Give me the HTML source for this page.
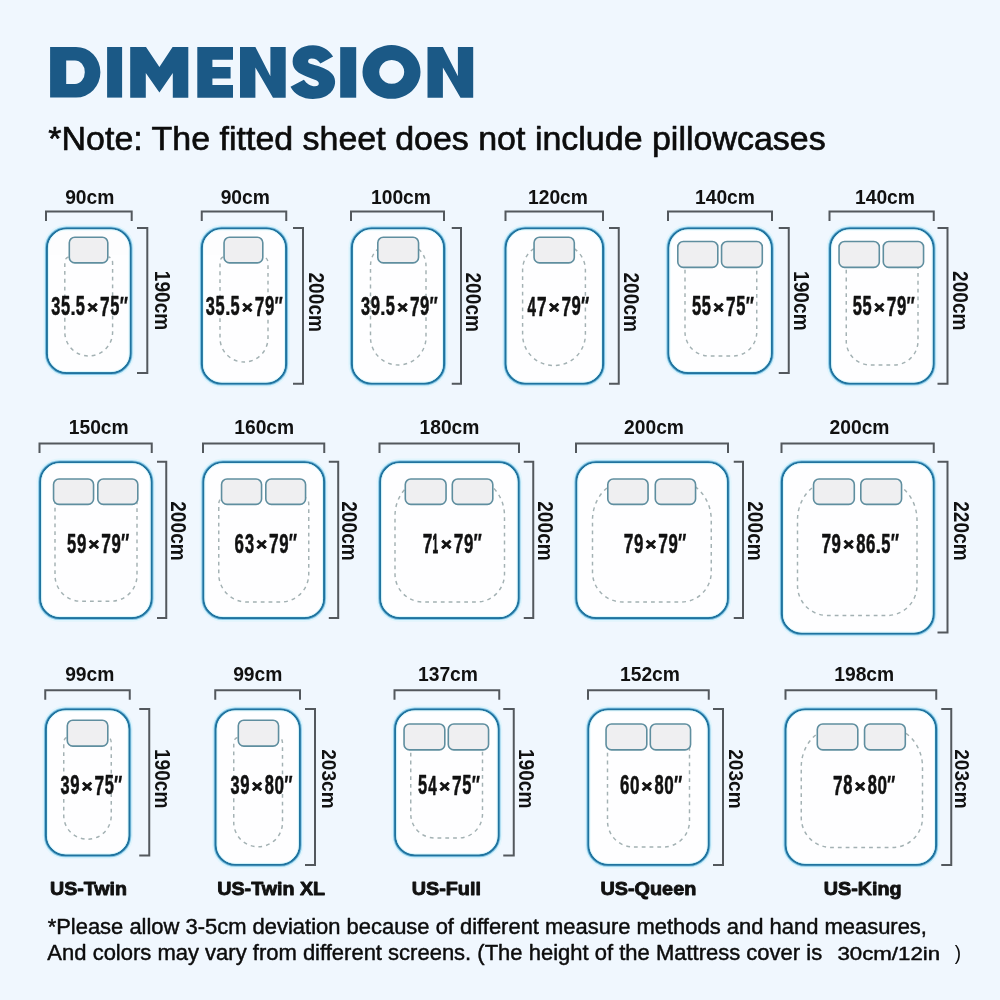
<!DOCTYPE html>
<html><head><meta charset="utf-8"><title>Dimension</title>
<style>html,body{margin:0;padding:0;background:#f0f7fe;}body{width:1000px;height:1000px;overflow:hidden;}svg{display:block;will-change:transform;opacity:.999;font-family:"Liberation Sans",sans-serif;}</style>
</head><body>
<svg width="1000" height="1000" viewBox="0 0 1000 1000">
<rect width="1000" height="1000" fill="#f0f7fe"/>
<g fill="#1b5986">
<path fill-rule="evenodd" d="M50.1,46.9 H76 A24.4,25.35 0 0 1 76,97.6 H50.1 Z M66.2,60.4 V84 H75 A9.8,11.8 0 0 0 75,60.4 Z"/>
<rect x="107.1" y="47" width="15" height="50.6"/>
<path d="M130.2,47.1 H146 L159.4,67 L172.6,47.1 H188.3 V97.7 H172.8 V73 L159.4,92.4 L145.8,73 V97.7 H130.2 Z"/>
<path d="M197.3,47.1 H233 V59.8 H212.4 V67 H230.6 V78.4 H212.4 V85 H233 V97.7 H197.3 Z"/>
<path transform="translate(240,0)" d="M0,47.1 H15.4 L30.4,76.3 V47.1 H45.7 V97.7 H33 L15.4,67.5 V97.7 H0 Z"/>
</g>
<path fill="#1b5986" d="M333.1,56.6 C328.5,49.5 321.5,45.3 313,45.3 C301,45.3 292.6,52 292.6,61.5 C292.6,70 299,73.5 306.5,76.4 C310,77.8 313,79 316.2,80.3 C318,81.2 318.8,82.3 318.8,83.6 C318.8,85.4 317.5,86.3 315,86.3 C310.5,86.3 306.5,83.5 303.9,79.7 L290.5,86.8 C294.5,94.5 302.5,99 313,99 C326,99 335.1,92 335.1,81.6 C335.1,73.5 328,70 321.4,67.3 C317,65.5 313,64.8 311,64.1 C309,63.4 308.1,62.6 308.1,61.5 C308.1,59.6 309.3,58.5 311.5,58.5 C315.5,58.5 318.3,60.5 320.4,63.4 Z"/>
<g fill="#1b5986">
<rect x="340.2" y="47.1" width="16" height="50.6"/>
<path fill-rule="evenodd" d="M391.5,45 A29,26.9 0 1 1 391.49,45 Z M391.7,60 A12.5,11.9 0 1 0 391.71,60 Z"/>
<path transform="translate(427.5,0)" d="M0,47.1 H15.4 L30.4,76.3 V47.1 H45.7 V97.7 H33 L15.4,67.5 V97.7 H0 Z"/>
</g>
<text transform="matrix(0.3398 0 0 0.3345 48.33 150.00)" font-size="100" font-weight="400" fill="#0c0c0c" stroke="#0c0c0c" stroke-width="1.94" stroke-linejoin="round">*Note: The fitted sheet does not include pillowcases</text>
<rect x="44.30" y="225.80" width="88.90" height="149.90" rx="22.20" fill="none" stroke="#d2f3fb" stroke-width="2.0" opacity="0.5"/>
<rect x="45.65" y="227.15" width="86.20" height="147.20" rx="20.85" fill="none" stroke="#8ccbea" stroke-width="1.5"/>
<rect x="46.95" y="228.45" width="83.60" height="144.60" rx="19.55" fill="#fefeff" stroke="#1f739f" stroke-width="2.1"/>
<rect x="48.40" y="229.90" width="80.70" height="141.70" rx="18.10" fill="none" stroke="#d6f7fd" stroke-width="1.0" opacity="0.9"/>
<path d="M68.5,257 Q64.8,258 64.8,263 V332.1 A23.9,23.9 0 0 0 88.69999999999999,356 H88.69999999999999 A23.9,23.9 0 0 0 112.6,332.1 V263 Q112.6,258 108.6,257" fill="none" stroke="#a3b1b3" stroke-width="1.45" stroke-dasharray="3.8 4"/>
<rect x="69.30" y="237.30" width="38.50" height="25.60" rx="5.5" fill="#efeff1" stroke="#5f8e9f" stroke-width="1.6"/>
<path d="M46,221.0 V211.5 H131.7 V221.0" fill="none" stroke="#53585d" stroke-width="2"/>
<path d="M137,227.9 H147.3 V373 H137" fill="none" stroke="#53585d" stroke-width="2"/>
<text transform="matrix(0.1927 0 0 0.2064 65.13 203.59)" font-size="100" font-weight="700" fill="#111">90cm</text>
<text transform="matrix(0 0.1913 -0.2120 0 154.51 270.80)" font-size="100" font-weight="700" fill="#111">190cm</text>
<text transform="matrix(0.1629 0 0 0.2662 51.14 315.17)" font-size="100" font-weight="700" fill="#111" stroke="#111" stroke-width="2.15" stroke-linejoin="round">3</text>
<text transform="matrix(0.1637 0 0 0.2710 60.92 315.23)" font-size="100" font-weight="700" fill="#111" stroke="#111" stroke-width="2.14" stroke-linejoin="round">5</text>
<text transform="matrix(0.2024 0 0 0.2188 70.20 315.40)" font-size="100" font-weight="700" fill="#111" stroke="#111" stroke-width="0.99" stroke-linejoin="round">.</text>
<text transform="matrix(0.1637 0 0 0.2710 75.84 315.23)" font-size="100" font-weight="700" fill="#111" stroke="#111" stroke-width="2.14" stroke-linejoin="round">5</text>
<text transform="matrix(0.1839 0 0 0.1711 87.35 312.63)" font-size="100" font-weight="700" fill="#111" stroke="#111" stroke-width="5.26" stroke-linejoin="round">×</text>
<text transform="matrix(0.1725 0 0 0.2749 100.11 315.50)" font-size="100" font-weight="700" fill="#111" stroke="#111" stroke-width="2.03" stroke-linejoin="round">7</text>
<text transform="matrix(0.1637 0 0 0.2710 110.26 315.23)" font-size="100" font-weight="700" fill="#111" stroke="#111" stroke-width="2.14" stroke-linejoin="round">5</text>
<text transform="matrix(0.1727 0 0 0.2600 119.70 314.57)" font-size="100" font-weight="700" fill="#111" stroke="#111" stroke-width="1.45" stroke-linejoin="round">″</text>
<rect x="199.30" y="225.80" width="89.40" height="160.40" rx="22.20" fill="none" stroke="#d2f3fb" stroke-width="2.0" opacity="0.5"/>
<rect x="200.65" y="227.15" width="86.70" height="157.70" rx="20.85" fill="none" stroke="#8ccbea" stroke-width="1.5"/>
<rect x="201.95" y="228.45" width="84.10" height="155.10" rx="19.55" fill="#fefeff" stroke="#1f739f" stroke-width="2.1"/>
<rect x="203.40" y="229.90" width="81.20" height="152.20" rx="18.10" fill="none" stroke="#d6f7fd" stroke-width="1.0" opacity="0.9"/>
<path d="M223.25,257 Q220,258 220,263 V338 A24,24 0 0 0 244,362 H244 A24,24 0 0 0 268,338 V263 Q268,258 263.6,257" fill="none" stroke="#a3b1b3" stroke-width="1.45" stroke-dasharray="3.8 4"/>
<rect x="224.05" y="237.30" width="38.75" height="25.60" rx="5.5" fill="#efeff1" stroke="#5f8e9f" stroke-width="1.6"/>
<path d="M201.75,221.0 V211.5 H286.25 V221.0" fill="none" stroke="#53585d" stroke-width="2"/>
<path d="M293,227.9 H303 V383.75 H293" fill="none" stroke="#53585d" stroke-width="2"/>
<text transform="matrix(0.1927 0 0 0.2064 220.63 203.59)" font-size="100" font-weight="700" fill="#111">90cm</text>
<text transform="matrix(0 0.1913 -0.2120 0 308.51 272.47)" font-size="100" font-weight="700" fill="#111">200cm</text>
<text transform="matrix(0.1629 0 0 0.2662 205.84 315.17)" font-size="100" font-weight="700" fill="#111" stroke="#111" stroke-width="2.15" stroke-linejoin="round">3</text>
<text transform="matrix(0.1637 0 0 0.2710 215.62 315.23)" font-size="100" font-weight="700" fill="#111" stroke="#111" stroke-width="2.14" stroke-linejoin="round">5</text>
<text transform="matrix(0.2024 0 0 0.2188 224.90 315.40)" font-size="100" font-weight="700" fill="#111" stroke="#111" stroke-width="0.99" stroke-linejoin="round">.</text>
<text transform="matrix(0.1637 0 0 0.2710 230.54 315.23)" font-size="100" font-weight="700" fill="#111" stroke="#111" stroke-width="2.14" stroke-linejoin="round">5</text>
<text transform="matrix(0.1839 0 0 0.1711 242.05 312.63)" font-size="100" font-weight="700" fill="#111" stroke="#111" stroke-width="5.26" stroke-linejoin="round">×</text>
<text transform="matrix(0.1725 0 0 0.2749 254.81 315.50)" font-size="100" font-weight="700" fill="#111" stroke="#111" stroke-width="2.03" stroke-linejoin="round">7</text>
<text transform="matrix(0.1671 0 0 0.2671 264.90 315.23)" font-size="100" font-weight="700" fill="#111" stroke="#111" stroke-width="2.09" stroke-linejoin="round">9</text>
<text transform="matrix(0.1727 0 0 0.2600 274.40 314.57)" font-size="100" font-weight="700" fill="#111" stroke="#111" stroke-width="1.45" stroke-linejoin="round">″</text>
<rect x="349.30" y="225.80" width="97.40" height="160.40" rx="22.20" fill="none" stroke="#d2f3fb" stroke-width="2.0" opacity="0.5"/>
<rect x="350.65" y="227.15" width="94.70" height="157.70" rx="20.85" fill="none" stroke="#8ccbea" stroke-width="1.5"/>
<rect x="351.95" y="228.45" width="92.10" height="155.10" rx="19.55" fill="#fefeff" stroke="#1f739f" stroke-width="2.1"/>
<rect x="353.40" y="229.90" width="89.20" height="152.20" rx="18.10" fill="none" stroke="#d6f7fd" stroke-width="1.0" opacity="0.9"/>
<path d="M386.5,246 A16,20 0 0 0 370.5,266 V337.3 A27.7,27.7 0 0 0 398.2,365 H398.3 A27.7,27.7 0 0 0 426,337.3 V266 A16,20 0 0 0 410,246" fill="none" stroke="#a3b1b3" stroke-width="1.45" stroke-dasharray="3.8 4"/>
<rect x="377.80" y="237.30" width="40.75" height="25.60" rx="5.5" fill="#efeff1" stroke="#5f8e9f" stroke-width="1.6"/>
<path d="M351,221.0 V211.5 H444 V221.0" fill="none" stroke="#53585d" stroke-width="2"/>
<path d="M451.75,227.9 H461 V383.75 H451.75" fill="none" stroke="#53585d" stroke-width="2"/>
<text transform="matrix(0.1927 0 0 0.2064 370.99 203.59)" font-size="100" font-weight="700" fill="#111">100cm</text>
<text transform="matrix(0 0.1913 -0.2120 0 465.61 272.47)" font-size="100" font-weight="700" fill="#111">200cm</text>
<text transform="matrix(0.1629 0 0 0.2662 360.96 315.17)" font-size="100" font-weight="700" fill="#111" stroke="#111" stroke-width="2.15" stroke-linejoin="round">3</text>
<text transform="matrix(0.1671 0 0 0.2671 370.69 315.23)" font-size="100" font-weight="700" fill="#111" stroke="#111" stroke-width="2.09" stroke-linejoin="round">9</text>
<text transform="matrix(0.2024 0 0 0.2188 380.03 315.40)" font-size="100" font-weight="700" fill="#111" stroke="#111" stroke-width="0.99" stroke-linejoin="round">.</text>
<text transform="matrix(0.1637 0 0 0.2710 385.66 315.23)" font-size="100" font-weight="700" fill="#111" stroke="#111" stroke-width="2.14" stroke-linejoin="round">5</text>
<text transform="matrix(0.1839 0 0 0.1711 397.18 312.63)" font-size="100" font-weight="700" fill="#111" stroke="#111" stroke-width="5.26" stroke-linejoin="round">×</text>
<text transform="matrix(0.1725 0 0 0.2749 409.93 315.50)" font-size="100" font-weight="700" fill="#111" stroke="#111" stroke-width="2.03" stroke-linejoin="round">7</text>
<text transform="matrix(0.1671 0 0 0.2671 420.03 315.23)" font-size="100" font-weight="700" fill="#111" stroke="#111" stroke-width="2.09" stroke-linejoin="round">9</text>
<text transform="matrix(0.1727 0 0 0.2600 429.53 314.57)" font-size="100" font-weight="700" fill="#111" stroke="#111" stroke-width="1.45" stroke-linejoin="round">″</text>
<rect x="503.05" y="225.80" width="102.65" height="160.40" rx="22.20" fill="none" stroke="#d2f3fb" stroke-width="2.0" opacity="0.5"/>
<rect x="504.40" y="227.15" width="99.95" height="157.70" rx="20.85" fill="none" stroke="#8ccbea" stroke-width="1.5"/>
<rect x="505.70" y="228.45" width="97.35" height="155.10" rx="19.55" fill="#fefeff" stroke="#1f739f" stroke-width="2.1"/>
<rect x="507.15" y="229.90" width="94.45" height="152.20" rx="18.10" fill="none" stroke="#d6f7fd" stroke-width="1.0" opacity="0.9"/>
<path d="M548.6,244 A26,26 0 0 0 522.6,270 V334.5 A31,31 0 0 0 553.6,365.5 H554.4 A31,31 0 0 0 585.4,334.5 V270 A26,26 0 0 0 559.4,244" fill="none" stroke="#a3b1b3" stroke-width="1.45" stroke-dasharray="3.8 4"/>
<rect x="534.05" y="237.30" width="40.25" height="25.60" rx="5.5" fill="#efeff1" stroke="#5f8e9f" stroke-width="1.6"/>
<path d="M505.5,221.0 V211.5 H603 V221.0" fill="none" stroke="#53585d" stroke-width="2"/>
<path d="M609,227.9 H618.75 V383.75 H609" fill="none" stroke="#53585d" stroke-width="2"/>
<text transform="matrix(0.1927 0 0 0.2064 527.99 203.59)" font-size="100" font-weight="700" fill="#111">120cm</text>
<text transform="matrix(0 0.1913 -0.2120 0 623.71 272.47)" font-size="100" font-weight="700" fill="#111">200cm</text>
<text transform="matrix(0.1515 0 0 0.2749 527.59 315.50)" font-size="100" font-weight="700" fill="#111" stroke="#111" stroke-width="2.31" stroke-linejoin="round">4</text>
<text transform="matrix(0.1725 0 0 0.2749 537.03 315.50)" font-size="100" font-weight="700" fill="#111" stroke="#111" stroke-width="2.03" stroke-linejoin="round">7</text>
<text transform="matrix(0.1839 0 0 0.1711 548.74 312.63)" font-size="100" font-weight="700" fill="#111" stroke="#111" stroke-width="5.26" stroke-linejoin="round">×</text>
<text transform="matrix(0.1725 0 0 0.2749 561.50 315.50)" font-size="100" font-weight="700" fill="#111" stroke="#111" stroke-width="2.03" stroke-linejoin="round">7</text>
<text transform="matrix(0.1671 0 0 0.2671 571.59 315.23)" font-size="100" font-weight="700" fill="#111" stroke="#111" stroke-width="2.09" stroke-linejoin="round">9</text>
<text transform="matrix(0.1727 0 0 0.2600 581.09 314.57)" font-size="100" font-weight="700" fill="#111" stroke="#111" stroke-width="1.45" stroke-linejoin="round">″</text>
<rect x="665.80" y="225.80" width="108.65" height="149.90" rx="22.20" fill="none" stroke="#d2f3fb" stroke-width="2.0" opacity="0.5"/>
<rect x="667.15" y="227.15" width="105.95" height="147.20" rx="20.85" fill="none" stroke="#8ccbea" stroke-width="1.5"/>
<rect x="668.45" y="228.45" width="103.35" height="144.60" rx="19.55" fill="#fefeff" stroke="#1f739f" stroke-width="2.1"/>
<rect x="669.90" y="229.90" width="100.45" height="141.70" rx="18.10" fill="none" stroke="#d6f7fd" stroke-width="1.0" opacity="0.9"/>
<path d="M685,262 V332 A24,24 0 0 0 709,356 H732.75 A24,24 0 0 0 756.75,332 V262" fill="none" stroke="#a3b1b3" stroke-width="1.45" stroke-dasharray="3.8 4"/>
<rect x="677.80" y="241.55" width="40.00" height="25.85" rx="5.5" fill="#efeff1" stroke="#5f8e9f" stroke-width="1.6"/>
<rect x="721.55" y="241.55" width="40.75" height="25.85" rx="5.5" fill="#efeff1" stroke="#5f8e9f" stroke-width="1.6"/>
<path d="M668,221.0 V211.5 H772 V221.0" fill="none" stroke="#53585d" stroke-width="2"/>
<path d="M778.75,227.9 H788.75 V373 H778.75" fill="none" stroke="#53585d" stroke-width="2"/>
<text transform="matrix(0.1927 0 0 0.2064 694.99 203.59)" font-size="100" font-weight="700" fill="#111">140cm</text>
<text transform="matrix(0 0.1913 -0.2120 0 793.51 271.10)" font-size="100" font-weight="700" fill="#111">190cm</text>
<text transform="matrix(0.1637 0 0 0.2710 691.88 315.23)" font-size="100" font-weight="700" fill="#111" stroke="#111" stroke-width="2.14" stroke-linejoin="round">5</text>
<text transform="matrix(0.1637 0 0 0.2710 701.83 315.23)" font-size="100" font-weight="700" fill="#111" stroke="#111" stroke-width="2.14" stroke-linejoin="round">5</text>
<text transform="matrix(0.1839 0 0 0.1711 713.34 312.63)" font-size="100" font-weight="700" fill="#111" stroke="#111" stroke-width="5.26" stroke-linejoin="round">×</text>
<text transform="matrix(0.1725 0 0 0.2749 726.10 315.50)" font-size="100" font-weight="700" fill="#111" stroke="#111" stroke-width="2.03" stroke-linejoin="round">7</text>
<text transform="matrix(0.1637 0 0 0.2710 736.25 315.23)" font-size="100" font-weight="700" fill="#111" stroke="#111" stroke-width="2.14" stroke-linejoin="round">5</text>
<text transform="matrix(0.1727 0 0 0.2600 745.69 314.57)" font-size="100" font-weight="700" fill="#111" stroke="#111" stroke-width="1.45" stroke-linejoin="round">″</text>
<rect x="827.55" y="225.80" width="108.65" height="160.40" rx="22.20" fill="none" stroke="#d2f3fb" stroke-width="2.0" opacity="0.5"/>
<rect x="828.90" y="227.15" width="105.95" height="157.70" rx="20.85" fill="none" stroke="#8ccbea" stroke-width="1.5"/>
<rect x="830.20" y="228.45" width="103.35" height="155.10" rx="19.55" fill="#fefeff" stroke="#1f739f" stroke-width="2.1"/>
<rect x="831.65" y="229.90" width="100.45" height="152.20" rx="18.10" fill="none" stroke="#d6f7fd" stroke-width="1.0" opacity="0.9"/>
<path d="M846.25,262 V341 A24,24 0 0 0 870.25,365 H894 A24,24 0 0 0 918,341 V262" fill="none" stroke="#a3b1b3" stroke-width="1.45" stroke-dasharray="3.8 4"/>
<rect x="839.05" y="241.55" width="40.25" height="25.85" rx="5.5" fill="#efeff1" stroke="#5f8e9f" stroke-width="1.6"/>
<rect x="883.30" y="241.55" width="40.25" height="25.85" rx="5.5" fill="#efeff1" stroke="#5f8e9f" stroke-width="1.6"/>
<path d="M829.5,221.0 V211.5 H933.75 V221.0" fill="none" stroke="#53585d" stroke-width="2"/>
<path d="M937.5,227.9 H947.5 V383.75 H937.5" fill="none" stroke="#53585d" stroke-width="2"/>
<text transform="matrix(0.1927 0 0 0.2064 854.99 203.59)" font-size="100" font-weight="700" fill="#111">140cm</text>
<text transform="matrix(0 0.1913 -0.2120 0 953.31 271.07)" font-size="100" font-weight="700" fill="#111">200cm</text>
<text transform="matrix(0.1637 0 0 0.2710 852.63 315.23)" font-size="100" font-weight="700" fill="#111" stroke="#111" stroke-width="2.14" stroke-linejoin="round">5</text>
<text transform="matrix(0.1637 0 0 0.2710 862.58 315.23)" font-size="100" font-weight="700" fill="#111" stroke="#111" stroke-width="2.14" stroke-linejoin="round">5</text>
<text transform="matrix(0.1839 0 0 0.1711 874.09 312.63)" font-size="100" font-weight="700" fill="#111" stroke="#111" stroke-width="5.26" stroke-linejoin="round">×</text>
<text transform="matrix(0.1725 0 0 0.2749 886.85 315.50)" font-size="100" font-weight="700" fill="#111" stroke="#111" stroke-width="2.03" stroke-linejoin="round">7</text>
<text transform="matrix(0.1671 0 0 0.2671 896.94 315.23)" font-size="100" font-weight="700" fill="#111" stroke="#111" stroke-width="2.09" stroke-linejoin="round">9</text>
<text transform="matrix(0.1727 0 0 0.2600 906.44 314.57)" font-size="100" font-weight="700" fill="#111" stroke="#111" stroke-width="1.45" stroke-linejoin="round">″</text>
<rect x="37.55" y="459.55" width="116.65" height="161.15" rx="22.20" fill="none" stroke="#d2f3fb" stroke-width="2.0" opacity="0.5"/>
<rect x="38.90" y="460.90" width="113.95" height="158.45" rx="20.85" fill="none" stroke="#8ccbea" stroke-width="1.5"/>
<rect x="40.20" y="462.20" width="111.35" height="155.85" rx="19.55" fill="#fefeff" stroke="#1f739f" stroke-width="2.1"/>
<rect x="41.65" y="463.65" width="108.45" height="152.95" rx="18.10" fill="none" stroke="#d6f7fd" stroke-width="1.0" opacity="0.9"/>
<path d="M55,500 V575.25 A26,26 0 0 0 81,601.25 H111 A26,26 0 0 0 137,575.25 V500" fill="none" stroke="#a3b1b3" stroke-width="1.45" stroke-dasharray="3.8 4"/>
<rect x="53.55" y="479.05" width="40.00" height="25.35" rx="5.5" fill="#efeff1" stroke="#5f8e9f" stroke-width="1.6"/>
<rect x="97.80" y="479.05" width="40.00" height="25.35" rx="5.5" fill="#efeff1" stroke="#5f8e9f" stroke-width="1.6"/>
<path d="M39.5,453.1 V443.6 H151.75 V453.1" fill="none" stroke="#53585d" stroke-width="2"/>
<path d="M157,461.65 H166.25 V618 H157" fill="none" stroke="#53585d" stroke-width="2"/>
<text transform="matrix(0.1927 0 0 0.2064 68.74 433.79)" font-size="100" font-weight="700" fill="#111">150cm</text>
<text transform="matrix(0 0.1913 -0.2120 0 171.46 501.22)" font-size="100" font-weight="700" fill="#111">200cm</text>
<text transform="matrix(0.1646 0 0 0.2724 66.96 552.93)" font-size="100" font-weight="700" fill="#111" stroke="#111" stroke-width="2.13" stroke-linejoin="round">5</text>
<text transform="matrix(0.1680 0 0 0.2686 76.91 552.93)" font-size="100" font-weight="700" fill="#111" stroke="#111" stroke-width="2.08" stroke-linejoin="round">9</text>
<text transform="matrix(0.1849 0 0 0.1720 88.54 550.32)" font-size="100" font-weight="700" fill="#111" stroke="#111" stroke-width="5.23" stroke-linejoin="round">×</text>
<text transform="matrix(0.1734 0 0 0.2764 101.36 553.20)" font-size="100" font-weight="700" fill="#111" stroke="#111" stroke-width="2.02" stroke-linejoin="round">7</text>
<text transform="matrix(0.1680 0 0 0.2686 111.51 552.93)" font-size="100" font-weight="700" fill="#111" stroke="#111" stroke-width="2.08" stroke-linejoin="round">9</text>
<text transform="matrix(0.1737 0 0 0.2614 121.06 552.27)" font-size="100" font-weight="700" fill="#111" stroke="#111" stroke-width="1.44" stroke-linejoin="round">″</text>
<rect x="200.80" y="459.55" width="125.90" height="161.15" rx="22.20" fill="none" stroke="#d2f3fb" stroke-width="2.0" opacity="0.5"/>
<rect x="202.15" y="460.90" width="123.20" height="158.45" rx="20.85" fill="none" stroke="#8ccbea" stroke-width="1.5"/>
<rect x="203.45" y="462.20" width="120.60" height="155.85" rx="19.55" fill="#fefeff" stroke="#1f739f" stroke-width="2.1"/>
<rect x="204.90" y="463.65" width="117.70" height="152.95" rx="18.10" fill="none" stroke="#d6f7fd" stroke-width="1.0" opacity="0.9"/>
<path d="M226.75,496 A8,8 0 0 0 218.75,504 V574 A28,28 0 0 0 246.75,602 H280.75 A28,28 0 0 0 308.75,574 V504 A8,8 0 0 0 300.75,496" fill="none" stroke="#a3b1b3" stroke-width="1.45" stroke-dasharray="3.8 4"/>
<rect x="221.55" y="479.05" width="40.00" height="25.35" rx="5.5" fill="#efeff1" stroke="#5f8e9f" stroke-width="1.6"/>
<rect x="265.80" y="479.05" width="39.75" height="25.35" rx="5.5" fill="#efeff1" stroke="#5f8e9f" stroke-width="1.6"/>
<path d="M203,453.1 V443.6 H324.25 V453.1" fill="none" stroke="#53585d" stroke-width="2"/>
<path d="M328.8,461.65 H338.2 V618 H328.8" fill="none" stroke="#53585d" stroke-width="2"/>
<text transform="matrix(0.1927 0 0 0.2064 234.24 433.79)" font-size="100" font-weight="700" fill="#111">160cm</text>
<text transform="matrix(0 0.1913 -0.2120 0 341.61 501.22)" font-size="100" font-weight="700" fill="#111">200cm</text>
<text transform="matrix(0.1689 0 0 0.2686 234.62 552.93)" font-size="100" font-weight="700" fill="#111" stroke="#111" stroke-width="2.07" stroke-linejoin="round">6</text>
<text transform="matrix(0.1638 0 0 0.2676 244.88 552.87)" font-size="100" font-weight="700" fill="#111" stroke="#111" stroke-width="2.14" stroke-linejoin="round">3</text>
<text transform="matrix(0.1849 0 0 0.1720 256.29 550.32)" font-size="100" font-weight="700" fill="#111" stroke="#111" stroke-width="5.23" stroke-linejoin="round">×</text>
<text transform="matrix(0.1734 0 0 0.2764 269.11 553.20)" font-size="100" font-weight="700" fill="#111" stroke="#111" stroke-width="2.02" stroke-linejoin="round">7</text>
<text transform="matrix(0.1680 0 0 0.2686 279.26 552.93)" font-size="100" font-weight="700" fill="#111" stroke="#111" stroke-width="2.08" stroke-linejoin="round">9</text>
<text transform="matrix(0.1737 0 0 0.2614 288.81 552.27)" font-size="100" font-weight="700" fill="#111" stroke="#111" stroke-width="1.44" stroke-linejoin="round">″</text>
<rect x="377.55" y="459.55" width="143.65" height="161.15" rx="22.20" fill="none" stroke="#d2f3fb" stroke-width="2.0" opacity="0.5"/>
<rect x="378.90" y="460.90" width="140.95" height="158.45" rx="20.85" fill="none" stroke="#8ccbea" stroke-width="1.5"/>
<rect x="380.20" y="462.20" width="138.35" height="155.85" rx="19.55" fill="#fefeff" stroke="#1f739f" stroke-width="2.1"/>
<rect x="381.65" y="463.65" width="135.45" height="152.95" rx="18.10" fill="none" stroke="#d6f7fd" stroke-width="1.0" opacity="0.9"/>
<path d="M425,480 A30,36 0 0 0 395,516 V574 A28,28 0 0 0 423,602 H476.5 A28,28 0 0 0 504.5,574 V516 A30,36 0 0 0 474.5,480" fill="none" stroke="#a3b1b3" stroke-width="1.45" stroke-dasharray="3.8 4"/>
<rect x="405.30" y="479.05" width="40.75" height="25.35" rx="5.5" fill="#efeff1" stroke="#5f8e9f" stroke-width="1.6"/>
<rect x="452.30" y="479.05" width="40.50" height="25.35" rx="5.5" fill="#efeff1" stroke="#5f8e9f" stroke-width="1.6"/>
<path d="M379.5,453.1 V443.6 H519 V453.1" fill="none" stroke="#53585d" stroke-width="2"/>
<path d="M523.75,461.65 H533.25 V618 H523.75" fill="none" stroke="#53585d" stroke-width="2"/>
<text transform="matrix(0.1927 0 0 0.2064 419.49 433.79)" font-size="100" font-weight="700" fill="#111">180cm</text>
<text transform="matrix(0 0.1913 -0.2120 0 537.71 501.22)" font-size="100" font-weight="700" fill="#111">200cm</text>
<text transform="matrix(0.1734 0 0 0.2764 422.66 553.20)" font-size="100" font-weight="700" fill="#111" stroke="#111" stroke-width="2.02" stroke-linejoin="round">7</text>
<text transform="matrix(0.1000 0 0 0.2764 432.42 553.20)" font-size="100" font-weight="700" fill="#111" stroke="#111" stroke-width="3.50" stroke-linejoin="round">1</text>
<text transform="matrix(0.1849 0 0 0.1720 441.04 550.32)" font-size="100" font-weight="700" fill="#111" stroke="#111" stroke-width="5.23" stroke-linejoin="round">×</text>
<text transform="matrix(0.1734 0 0 0.2764 453.86 553.20)" font-size="100" font-weight="700" fill="#111" stroke="#111" stroke-width="2.02" stroke-linejoin="round">7</text>
<text transform="matrix(0.1680 0 0 0.2686 464.01 552.93)" font-size="100" font-weight="700" fill="#111" stroke="#111" stroke-width="2.08" stroke-linejoin="round">9</text>
<text transform="matrix(0.1737 0 0 0.2614 473.56 552.27)" font-size="100" font-weight="700" fill="#111" stroke="#111" stroke-width="1.44" stroke-linejoin="round">″</text>
<rect x="573.80" y="459.55" width="156.65" height="161.15" rx="22.20" fill="none" stroke="#d2f3fb" stroke-width="2.0" opacity="0.5"/>
<rect x="575.15" y="460.90" width="153.95" height="158.45" rx="20.85" fill="none" stroke="#8ccbea" stroke-width="1.5"/>
<rect x="576.45" y="462.20" width="151.35" height="155.85" rx="19.55" fill="#fefeff" stroke="#1f739f" stroke-width="2.1"/>
<rect x="577.90" y="463.65" width="148.45" height="152.95" rx="18.10" fill="none" stroke="#d6f7fd" stroke-width="1.0" opacity="0.9"/>
<path d="M628.5,480 A36,40 0 0 0 592.5,520 V572 A30,30 0 0 0 622.5,602 H681.25 A30,30 0 0 0 711.25,572 V520 A36,40 0 0 0 675.25,480" fill="none" stroke="#a3b1b3" stroke-width="1.45" stroke-dasharray="3.8 4"/>
<rect x="607.80" y="479.05" width="40.25" height="25.35" rx="5.5" fill="#efeff1" stroke="#5f8e9f" stroke-width="1.6"/>
<rect x="655.30" y="479.05" width="40.25" height="25.35" rx="5.5" fill="#efeff1" stroke="#5f8e9f" stroke-width="1.6"/>
<path d="M576,453.1 V443.6 H728 V453.1" fill="none" stroke="#53585d" stroke-width="2"/>
<path d="M733.75,461.65 H743 V618 H733.75" fill="none" stroke="#53585d" stroke-width="2"/>
<text transform="matrix(0.1927 0 0 0.2064 624.00 433.79)" font-size="100" font-weight="700" fill="#111">200cm</text>
<text transform="matrix(0 0.1913 -0.2120 0 748.21 501.22)" font-size="100" font-weight="700" fill="#111">200cm</text>
<text transform="matrix(0.1734 0 0 0.2764 623.76 553.20)" font-size="100" font-weight="700" fill="#111" stroke="#111" stroke-width="2.02" stroke-linejoin="round">7</text>
<text transform="matrix(0.1680 0 0 0.2686 633.91 552.93)" font-size="100" font-weight="700" fill="#111" stroke="#111" stroke-width="2.08" stroke-linejoin="round">9</text>
<text transform="matrix(0.1849 0 0 0.1720 645.54 550.32)" font-size="100" font-weight="700" fill="#111" stroke="#111" stroke-width="5.23" stroke-linejoin="round">×</text>
<text transform="matrix(0.1734 0 0 0.2764 658.36 553.20)" font-size="100" font-weight="700" fill="#111" stroke="#111" stroke-width="2.02" stroke-linejoin="round">7</text>
<text transform="matrix(0.1680 0 0 0.2686 668.51 552.93)" font-size="100" font-weight="700" fill="#111" stroke="#111" stroke-width="2.08" stroke-linejoin="round">9</text>
<text transform="matrix(0.1737 0 0 0.2614 678.06 552.27)" font-size="100" font-weight="700" fill="#111" stroke="#111" stroke-width="1.44" stroke-linejoin="round">″</text>
<rect x="779.30" y="459.55" width="156.90" height="176.65" rx="22.20" fill="none" stroke="#d2f3fb" stroke-width="2.0" opacity="0.5"/>
<rect x="780.65" y="460.90" width="154.20" height="173.95" rx="20.85" fill="none" stroke="#8ccbea" stroke-width="1.5"/>
<rect x="781.95" y="462.20" width="151.60" height="171.35" rx="19.55" fill="#fefeff" stroke="#1f739f" stroke-width="2.1"/>
<rect x="783.40" y="463.65" width="148.70" height="168.45" rx="18.10" fill="none" stroke="#d6f7fd" stroke-width="1.0" opacity="0.9"/>
<path d="M833.5,480 A36,40 0 0 0 797.5,520 V585.5 A30,30 0 0 0 827.5,615.5 H887 A30,30 0 0 0 917,585.5 V520 A36,40 0 0 0 881,480" fill="none" stroke="#a3b1b3" stroke-width="1.45" stroke-dasharray="3.8 4"/>
<rect x="813.55" y="479.05" width="40.75" height="25.35" rx="5.5" fill="#efeff1" stroke="#5f8e9f" stroke-width="1.6"/>
<rect x="860.80" y="479.05" width="40.75" height="25.35" rx="5.5" fill="#efeff1" stroke="#5f8e9f" stroke-width="1.6"/>
<path d="M781.5,453.1 V443.6 H933.75 V453.1" fill="none" stroke="#53585d" stroke-width="2"/>
<path d="M937.5,461.65 H947.5 V632.5 H937.5" fill="none" stroke="#53585d" stroke-width="2"/>
<text transform="matrix(0.1927 0 0 0.2064 829.50 433.79)" font-size="100" font-weight="700" fill="#111">200cm</text>
<text transform="matrix(0 0.1913 -0.2120 0 953.96 501.22)" font-size="100" font-weight="700" fill="#111">220cm</text>
<text transform="matrix(0.1734 0 0 0.2764 821.39 553.20)" font-size="100" font-weight="700" fill="#111" stroke="#111" stroke-width="2.02" stroke-linejoin="round">7</text>
<text transform="matrix(0.1680 0 0 0.2686 831.54 552.93)" font-size="100" font-weight="700" fill="#111" stroke="#111" stroke-width="2.08" stroke-linejoin="round">9</text>
<text transform="matrix(0.1849 0 0 0.1720 843.16 550.32)" font-size="100" font-weight="700" fill="#111" stroke="#111" stroke-width="5.23" stroke-linejoin="round">×</text>
<text transform="matrix(0.1655 0 0 0.2686 856.19 552.93)" font-size="100" font-weight="700" fill="#111" stroke="#111" stroke-width="2.12" stroke-linejoin="round">8</text>
<text transform="matrix(0.1689 0 0 0.2686 866.09 552.93)" font-size="100" font-weight="700" fill="#111" stroke="#111" stroke-width="2.07" stroke-linejoin="round">6</text>
<text transform="matrix(0.2035 0 0 0.2200 875.53 553.10)" font-size="100" font-weight="700" fill="#111" stroke="#111" stroke-width="0.98" stroke-linejoin="round">.</text>
<text transform="matrix(0.1646 0 0 0.2724 881.19 552.93)" font-size="100" font-weight="700" fill="#111" stroke="#111" stroke-width="2.13" stroke-linejoin="round">5</text>
<text transform="matrix(0.1737 0 0 0.2614 890.69 552.27)" font-size="100" font-weight="700" fill="#111" stroke="#111" stroke-width="1.44" stroke-linejoin="round">″</text>
<rect x="43.30" y="706.80" width="88.65" height="151.15" rx="22.20" fill="none" stroke="#d2f3fb" stroke-width="2.0" opacity="0.5"/>
<rect x="44.65" y="708.15" width="85.95" height="148.45" rx="20.85" fill="none" stroke="#8ccbea" stroke-width="1.5"/>
<rect x="45.95" y="709.45" width="83.35" height="145.85" rx="19.55" fill="#fefeff" stroke="#1f739f" stroke-width="2.1"/>
<rect x="47.40" y="710.90" width="80.45" height="142.95" rx="18.10" fill="none" stroke="#d6f7fd" stroke-width="1.0" opacity="0.9"/>
<path d="M66.5,737.5 Q63.75,738.5 63.75,743.5 V815.55 A23.7,23.7 0 0 0 87.45,839.25 H87.55 A23.7,23.7 0 0 0 111.25,815.55 V743.5 Q111.25,738.5 108.6,737.5" fill="none" stroke="#a3b1b3" stroke-width="1.45" stroke-dasharray="3.8 4"/>
<rect x="67.30" y="720.30" width="40.50" height="25.85" rx="5.5" fill="#efeff1" stroke="#5f8e9f" stroke-width="1.6"/>
<path d="M45.25,699.8 V690.3 H129.75 V699.8" fill="none" stroke="#53585d" stroke-width="2"/>
<path d="M139.25,708.9 H149.25 V855.5 H139.25" fill="none" stroke="#53585d" stroke-width="2"/>
<text transform="matrix(0.1927 0 0 0.2035 65.13 681.20)" font-size="100" font-weight="700" fill="#111">99cm</text>
<text transform="matrix(0 0.1913 -0.2120 0 154.71 748.95)" font-size="100" font-weight="700" fill="#111">190cm</text>
<text transform="matrix(0.1629 0 0 0.2662 60.45 794.17)" font-size="100" font-weight="700" fill="#111" stroke="#111" stroke-width="2.15" stroke-linejoin="round">3</text>
<text transform="matrix(0.1671 0 0 0.2671 70.18 794.23)" font-size="100" font-weight="700" fill="#111" stroke="#111" stroke-width="2.09" stroke-linejoin="round">9</text>
<text transform="matrix(0.1839 0 0 0.1711 81.74 791.63)" font-size="100" font-weight="700" fill="#111" stroke="#111" stroke-width="5.26" stroke-linejoin="round">×</text>
<text transform="matrix(0.1725 0 0 0.2749 94.50 794.50)" font-size="100" font-weight="700" fill="#111" stroke="#111" stroke-width="2.03" stroke-linejoin="round">7</text>
<text transform="matrix(0.1637 0 0 0.2710 104.65 794.23)" font-size="100" font-weight="700" fill="#111" stroke="#111" stroke-width="2.14" stroke-linejoin="round">5</text>
<text transform="matrix(0.1727 0 0 0.2600 114.09 793.57)" font-size="100" font-weight="700" fill="#111" stroke="#111" stroke-width="1.45" stroke-linejoin="round">″</text>
<text transform="matrix(0.1961 0 0 0.1920 50.02 894.60)" font-size="100" font-weight="700" fill="#111" stroke="#111" stroke-width="4.69" stroke-linejoin="round">US-Twin</text>
<rect x="213.05" y="706.80" width="89.40" height="160.65" rx="22.20" fill="none" stroke="#d2f3fb" stroke-width="2.0" opacity="0.5"/>
<rect x="214.40" y="708.15" width="86.70" height="157.95" rx="20.85" fill="none" stroke="#8ccbea" stroke-width="1.5"/>
<rect x="215.70" y="709.45" width="84.10" height="155.35" rx="19.55" fill="#fefeff" stroke="#1f739f" stroke-width="2.1"/>
<rect x="217.15" y="710.90" width="81.20" height="152.45" rx="18.10" fill="none" stroke="#d6f7fd" stroke-width="1.0" opacity="0.9"/>
<path d="M237.5,737.5 Q233.75,738.5 233.75,743.5 V822.45 A24.3,24.3 0 0 0 258.05,846.75 H258.2 A24.3,24.3 0 0 0 282.5,822.45 V743.5 Q282.5,738.5 279.35,737.5" fill="none" stroke="#a3b1b3" stroke-width="1.45" stroke-dasharray="3.8 4"/>
<rect x="238.30" y="720.30" width="40.25" height="25.85" rx="5.5" fill="#efeff1" stroke="#5f8e9f" stroke-width="1.6"/>
<path d="M215.25,699.8 V690.3 H300 V699.8" fill="none" stroke="#53585d" stroke-width="2"/>
<path d="M305,708.9 H315 V865 H305" fill="none" stroke="#53585d" stroke-width="2"/>
<text transform="matrix(0.1927 0 0 0.2035 233.13 681.20)" font-size="100" font-weight="700" fill="#111">99cm</text>
<text transform="matrix(0 0.1913 -0.2113 0 322.26 749.22)" font-size="100" font-weight="700" fill="#111">203cm</text>
<text transform="matrix(0.1629 0 0 0.2662 230.55 794.17)" font-size="100" font-weight="700" fill="#111" stroke="#111" stroke-width="2.15" stroke-linejoin="round">3</text>
<text transform="matrix(0.1671 0 0 0.2671 240.28 794.23)" font-size="100" font-weight="700" fill="#111" stroke="#111" stroke-width="2.09" stroke-linejoin="round">9</text>
<text transform="matrix(0.1839 0 0 0.1711 251.84 791.63)" font-size="100" font-weight="700" fill="#111" stroke="#111" stroke-width="5.26" stroke-linejoin="round">×</text>
<text transform="matrix(0.1646 0 0 0.2671 264.80 794.23)" font-size="100" font-weight="700" fill="#111" stroke="#111" stroke-width="2.13" stroke-linejoin="round">8</text>
<text transform="matrix(0.1706 0 0 0.2671 274.60 794.23)" font-size="100" font-weight="700" fill="#111" stroke="#111" stroke-width="2.05" stroke-linejoin="round">0</text>
<text transform="matrix(0.1727 0 0 0.2600 284.19 793.57)" font-size="100" font-weight="700" fill="#111" stroke="#111" stroke-width="1.45" stroke-linejoin="round">″</text>
<text transform="matrix(0.1968 0 0 0.1920 217.27 894.60)" font-size="100" font-weight="700" fill="#111" stroke="#111" stroke-width="4.69" stroke-linejoin="round">US-Twin XL</text>
<rect x="392.55" y="706.80" width="108.65" height="151.15" rx="22.20" fill="none" stroke="#d2f3fb" stroke-width="2.0" opacity="0.5"/>
<rect x="393.90" y="708.15" width="105.95" height="148.45" rx="20.85" fill="none" stroke="#8ccbea" stroke-width="1.5"/>
<rect x="395.20" y="709.45" width="103.35" height="145.85" rx="19.55" fill="#fefeff" stroke="#1f739f" stroke-width="2.1"/>
<rect x="396.65" y="710.90" width="100.45" height="142.95" rx="18.10" fill="none" stroke="#d6f7fd" stroke-width="1.0" opacity="0.9"/>
<path d="M410.75,745 V814 A24,24 0 0 0 434.75,838 H458.5 A24,24 0 0 0 482.5,814 V745" fill="none" stroke="#a3b1b3" stroke-width="1.45" stroke-dasharray="3.8 4"/>
<rect x="404.05" y="724.05" width="40.75" height="25.85" rx="5.5" fill="#efeff1" stroke="#5f8e9f" stroke-width="1.6"/>
<rect x="448.30" y="724.05" width="40.25" height="25.85" rx="5.5" fill="#efeff1" stroke="#5f8e9f" stroke-width="1.6"/>
<path d="M394.5,699.8 V690.3 H499.25 V699.8" fill="none" stroke="#53585d" stroke-width="2"/>
<path d="M503.25,708.9 H513.75 V855.5 H503.25" fill="none" stroke="#53585d" stroke-width="2"/>
<text transform="matrix(0.1927 0 0 0.2028 417.99 681.15)" font-size="100" font-weight="700" fill="#111">137cm</text>
<text transform="matrix(0 0.1913 -0.2120 0 519.46 748.95)" font-size="100" font-weight="700" fill="#111">190cm</text>
<text transform="matrix(0.1637 0 0 0.2710 417.88 794.23)" font-size="100" font-weight="700" fill="#111" stroke="#111" stroke-width="2.14" stroke-linejoin="round">5</text>
<text transform="matrix(0.1515 0 0 0.2749 428.13 794.50)" font-size="100" font-weight="700" fill="#111" stroke="#111" stroke-width="2.31" stroke-linejoin="round">4</text>
<text transform="matrix(0.1839 0 0 0.1711 439.34 791.63)" font-size="100" font-weight="700" fill="#111" stroke="#111" stroke-width="5.26" stroke-linejoin="round">×</text>
<text transform="matrix(0.1725 0 0 0.2749 452.10 794.50)" font-size="100" font-weight="700" fill="#111" stroke="#111" stroke-width="2.03" stroke-linejoin="round">7</text>
<text transform="matrix(0.1637 0 0 0.2710 462.25 794.23)" font-size="100" font-weight="700" fill="#111" stroke="#111" stroke-width="2.14" stroke-linejoin="round">5</text>
<text transform="matrix(0.1727 0 0 0.2600 471.69 793.57)" font-size="100" font-weight="700" fill="#111" stroke="#111" stroke-width="1.45" stroke-linejoin="round">″</text>
<text transform="matrix(0.1976 0 0 0.1920 411.76 894.60)" font-size="100" font-weight="700" fill="#111" stroke="#111" stroke-width="4.69" stroke-linejoin="round">US-Full</text>
<rect x="585.80" y="706.80" width="125.40" height="160.65" rx="22.20" fill="none" stroke="#d2f3fb" stroke-width="2.0" opacity="0.5"/>
<rect x="587.15" y="708.15" width="122.70" height="157.95" rx="20.85" fill="none" stroke="#8ccbea" stroke-width="1.5"/>
<rect x="588.45" y="709.45" width="120.10" height="155.35" rx="19.55" fill="#fefeff" stroke="#1f739f" stroke-width="2.1"/>
<rect x="589.90" y="710.90" width="117.20" height="152.45" rx="18.10" fill="none" stroke="#d6f7fd" stroke-width="1.0" opacity="0.9"/>
<path d="M607.5,745 V821 A26,26 0 0 0 633.5,847 H663.5 A26,26 0 0 0 689.5,821 V745" fill="none" stroke="#a3b1b3" stroke-width="1.45" stroke-dasharray="3.8 4"/>
<rect x="606.05" y="724.05" width="40.75" height="25.85" rx="5.5" fill="#efeff1" stroke="#5f8e9f" stroke-width="1.6"/>
<rect x="650.30" y="724.05" width="40.25" height="25.85" rx="5.5" fill="#efeff1" stroke="#5f8e9f" stroke-width="1.6"/>
<path d="M588,699.8 V690.3 H708.75 V699.8" fill="none" stroke="#53585d" stroke-width="2"/>
<path d="M713,708.9 H723 V865 H713" fill="none" stroke="#53585d" stroke-width="2"/>
<text transform="matrix(0.1927 0 0 0.2035 619.99 681.20)" font-size="100" font-weight="700" fill="#111">152cm</text>
<text transform="matrix(0 0.1913 -0.2113 0 729.01 749.22)" font-size="100" font-weight="700" fill="#111">203cm</text>
<text transform="matrix(0.1680 0 0 0.2671 620.03 794.23)" font-size="100" font-weight="700" fill="#111" stroke="#111" stroke-width="2.08" stroke-linejoin="round">6</text>
<text transform="matrix(0.1706 0 0 0.2671 629.93 794.23)" font-size="100" font-weight="700" fill="#111" stroke="#111" stroke-width="2.05" stroke-linejoin="round">0</text>
<text transform="matrix(0.1839 0 0 0.1711 641.59 791.63)" font-size="100" font-weight="700" fill="#111" stroke="#111" stroke-width="5.26" stroke-linejoin="round">×</text>
<text transform="matrix(0.1646 0 0 0.2671 654.55 794.23)" font-size="100" font-weight="700" fill="#111" stroke="#111" stroke-width="2.13" stroke-linejoin="round">8</text>
<text transform="matrix(0.1706 0 0 0.2671 664.35 794.23)" font-size="100" font-weight="700" fill="#111" stroke="#111" stroke-width="2.05" stroke-linejoin="round">0</text>
<text transform="matrix(0.1727 0 0 0.2600 673.94 793.57)" font-size="100" font-weight="700" fill="#111" stroke="#111" stroke-width="1.45" stroke-linejoin="round">″</text>
<text transform="matrix(0.1981 0 0 0.1920 600.51 894.60)" font-size="100" font-weight="700" fill="#111" stroke="#111" stroke-width="4.69" stroke-linejoin="round">US-Queen</text>
<rect x="783.05" y="706.80" width="155.65" height="160.65" rx="22.20" fill="none" stroke="#d2f3fb" stroke-width="2.0" opacity="0.5"/>
<rect x="784.40" y="708.15" width="152.95" height="157.95" rx="20.85" fill="none" stroke="#8ccbea" stroke-width="1.5"/>
<rect x="785.70" y="709.45" width="150.35" height="155.35" rx="19.55" fill="#fefeff" stroke="#1f739f" stroke-width="2.1"/>
<rect x="787.15" y="710.90" width="147.45" height="152.45" rx="18.10" fill="none" stroke="#d6f7fd" stroke-width="1.0" opacity="0.9"/>
<path d="M837.25,727 A36,40 0 0 0 801.25,767 V817.5 A30,30 0 0 0 831.25,847.5 H892.5 A30,30 0 0 0 922.5,817.5 V767 A36,40 0 0 0 886.5,727" fill="none" stroke="#a3b1b3" stroke-width="1.45" stroke-dasharray="3.8 4"/>
<rect x="817.30" y="724.05" width="40.50" height="25.85" rx="5.5" fill="#efeff1" stroke="#5f8e9f" stroke-width="1.6"/>
<rect x="864.55" y="724.05" width="40.75" height="25.85" rx="5.5" fill="#efeff1" stroke="#5f8e9f" stroke-width="1.6"/>
<path d="M785.5,699.8 V690.3 H936.25 V699.8" fill="none" stroke="#53585d" stroke-width="2"/>
<path d="M941.25,708.9 H951.25 V865 H941.25" fill="none" stroke="#53585d" stroke-width="2"/>
<text transform="matrix(0.1927 0 0 0.2035 834.24 681.20)" font-size="100" font-weight="700" fill="#111">198cm</text>
<text transform="matrix(0 0.1913 -0.2113 0 955.26 749.22)" font-size="100" font-weight="700" fill="#111">203cm</text>
<text transform="matrix(0.1725 0 0 0.2749 833.05 794.50)" font-size="100" font-weight="700" fill="#111" stroke="#111" stroke-width="2.03" stroke-linejoin="round">7</text>
<text transform="matrix(0.1646 0 0 0.2671 843.20 794.23)" font-size="100" font-weight="700" fill="#111" stroke="#111" stroke-width="2.13" stroke-linejoin="round">8</text>
<text transform="matrix(0.1839 0 0 0.1711 854.72 791.63)" font-size="100" font-weight="700" fill="#111" stroke="#111" stroke-width="5.26" stroke-linejoin="round">×</text>
<text transform="matrix(0.1646 0 0 0.2671 867.67 794.23)" font-size="100" font-weight="700" fill="#111" stroke="#111" stroke-width="2.13" stroke-linejoin="round">8</text>
<text transform="matrix(0.1706 0 0 0.2671 877.47 794.23)" font-size="100" font-weight="700" fill="#111" stroke="#111" stroke-width="2.05" stroke-linejoin="round">0</text>
<text transform="matrix(0.1727 0 0 0.2600 887.07 793.57)" font-size="100" font-weight="700" fill="#111" stroke="#111" stroke-width="1.45" stroke-linejoin="round">″</text>
<text transform="matrix(0.1974 0 0 0.1920 823.77 894.60)" font-size="100" font-weight="700" fill="#111" stroke="#111" stroke-width="4.69" stroke-linejoin="round">US-King</text>
<text transform="matrix(0.2197 0 0 0.2138 47.64 934.20)" font-size="100" font-weight="400" fill="#0c0c0c" stroke="#0c0c0c" stroke-width="2.10" stroke-linejoin="round">*Please allow 3-5cm deviation because of different measure methods and hand measures,</text>
<text transform="matrix(0.2201 0 0 0.2138 47.37 959.70)" font-size="100" font-weight="400" fill="#0c0c0c" stroke="#0c0c0c" stroke-width="2.10" stroke-linejoin="round">And colors may vary from different screens. (The height of the Mattress cover is</text>
<text transform="matrix(0.2229 0 0 0.1862 837.39 960.00)" font-size="100" font-weight="400" fill="#0c0c0c" stroke="#0c0c0c" stroke-width="2.42" stroke-linejoin="round">30cm/12in</text>
<text transform="matrix(0.1905 0 0 0.1930 954.86 959.99)" font-size="100" font-weight="400" fill="#0c0c0c">)</text>
</svg></body></html>
